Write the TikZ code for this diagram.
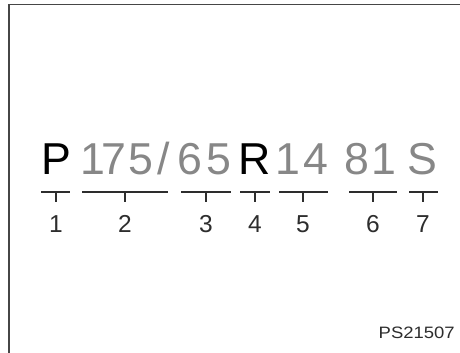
\documentclass[tikz,border=0pt]{standalone}
\usepackage{fontspec}
\setmainfont{Liberation Sans}
\definecolor{tiregray}{RGB}{135,135,135}
\definecolor{numgray}{RGB}{45,45,45}
\definecolor{framegray}{RGB}{70,70,70}
\begin{document}
\begin{tikzpicture}[x=1pt,y=1pt,
  big/.style={anchor=base, inner sep=0pt, font=\fontsize{44.7}{48}\selectfont},
  dark/.style={big, text=black},
  light/.style={big, text=tiregray},
  num/.style={anchor=base, inner sep=0pt, font=\fontsize{24.5}{28}\selectfont, text=numgray},
  bar/.style={draw=numgray, line width=1.2pt},
  frameline/.style={draw=framegray, line width=1.1pt},
  code/.style={anchor=base east, inner sep=0pt, font=\fontsize{16.5}{18}\selectfont, text=numgray, xscale=1.12},
]
\useasboundingbox (0,0) rectangle (460,353);
\coordinate (fbl) at (9,-10);
\coordinate (ftl) at (9,348.5);
\coordinate (ftr) at (470,348.5);
\draw[frameline] (fbl) -- (ftl) -- (ftr);

% tyre code characters
\node[dark]  (cP)  at (56.5,178) {P};
\node[light] (c1)  at (92.5,178) {1};
\node[light] (c2)  at (114,178) {7};
\node[light] (c3)  at (141,178) {5};
\node[light] (c4)  at (163.5,178) {/};
\node[light] (c5)  at (190,178) {6};
\node[light] (c6)  at (218.5,178) {5};
\node[dark]  (cR)  at (254.5,178) {R};
\node[light] (c7)  at (288,178) {1};
\node[light] (c8)  at (316,178) {4};
\node[light] (c9)  at (357,178) {8};
\node[light] (c10) at (384,178) {1};
\node[light] (cS)  at (422.5,178) {S};

% brackets
\foreach \i/\l/\m/\r in {1/41/56/70, 2/82/125/168, 3/181/206/231, 4/240/255/270, 5/279/303/328, 6/349/373/397, 7/409/423/438}{
  \coordinate (bl\i) at (\l,161);
  \coordinate (br\i) at (\r,161);
  \coordinate (bt\i) at (\m,161);
  \coordinate (bu\i) at (\m,151);
  \draw[bar] (bl\i) -- (br\i);
  \draw[bar] (bt\i) -- (bu\i);
  \node[num] (n\i) at (\m,120) {\i};
}

\node[code] (ps) at (455,14) {PS21507};
\end{tikzpicture}
\end{document}
